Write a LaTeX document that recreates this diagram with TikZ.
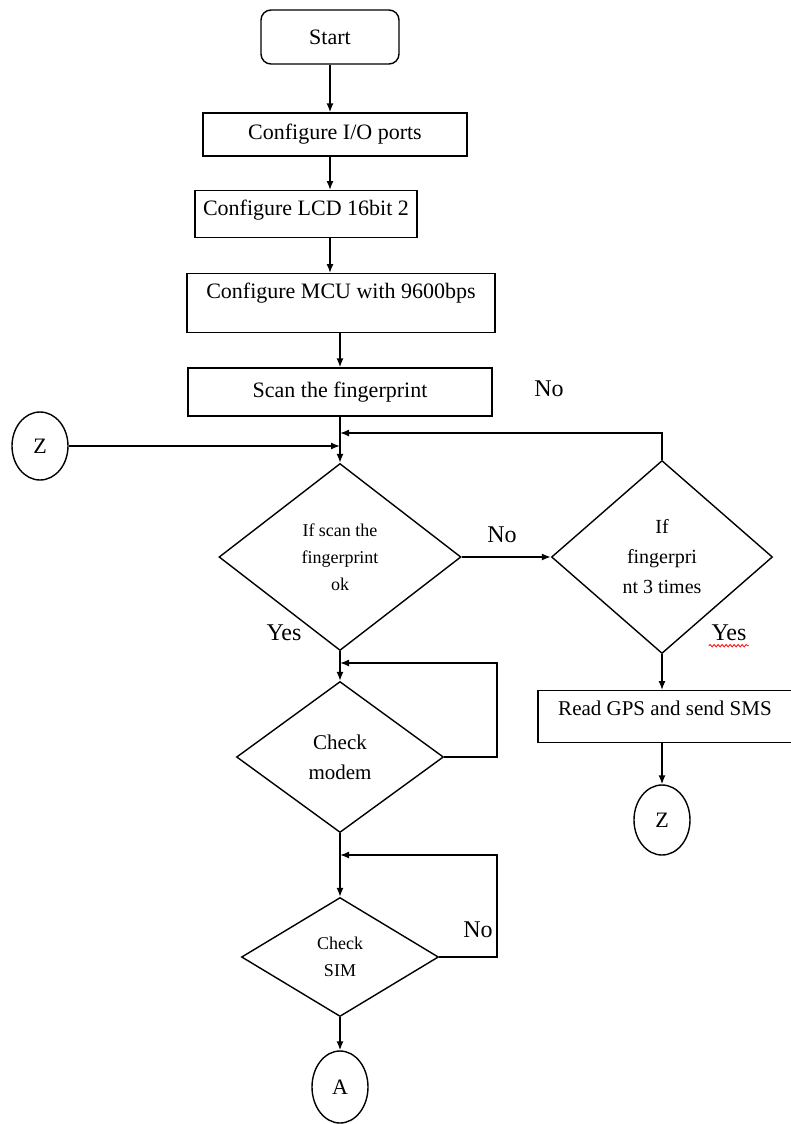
\documentclass[tikz,border=0pt]{standalone}
\usepackage{fontspec}
\setmainfont{Liberation Serif}
\usetikzlibrary{shapes.geometric,arrows.meta,calc,decorations.pathmorphing}
\begin{document}
\begin{tikzpicture}[x=1pt,y=-1pt,
  line width=1.4pt,
  arr/.style={-{Latex[length=9pt,width=7pt]}},
  procbox/.style={draw, rectangle, inner sep=0pt, font=\fontsize{22}{26}\selectfont},
  termbox/.style={draw, rectangle, rounded corners=10pt, inner sep=0pt, font=\fontsize{22}{26}\selectfont},
  decbox/.style={draw, diamond, inner sep=0pt, align=center},
  conn/.style={draw, ellipse, inner sep=0pt, minimum width=56pt, font=\fontsize{22}{26}\selectfont},
  lbl/.style={font=\fontsize{24}{28}\selectfont, inner sep=0pt}
]
\useasboundingbox (0,0) rectangle (790,1124);

\node[termbox, minimum width=138pt, minimum height=54pt] (start) at (330,37) {Start};
\node[procbox, minimum width=264pt, minimum height=43pt] (io) at (335,134.5) {Configure I/O ports};
\node[procbox, inner xsep=8pt, minimum width=222pt, text height=25pt, text depth=22pt, anchor=north] (lcd) at (306,190) {Configure LCD 16bit 2};
\node[procbox, minimum width=308pt, text height=25pt, text depth=34pt, anchor=north] (mcu) at (341,273) {Configure MCU with 9600bps};
\node[procbox, minimum width=304pt, minimum height=48pt] (scan) at (340,392) {Scan the fingerprint};

\node[conn, minimum height=68pt] (zl) at (40,446) {Z};
\coordinate (j1) at (340,433);
\node[decbox, minimum width=242pt, minimum height=187pt, font=\fontsize{18}{27}\selectfont] (d1) at (340,557) {If scan the\\fingerprint\\ok};
\node[decbox, minimum width=221pt, minimum height=193pt, font=\fontsize{20}{30}\selectfont] (d2) at (662,557) {If\\fingerpri\\nt 3 times};
\node[procbox, minimum width=254pt, text height=25pt, text depth=27pt, anchor=north, font=\fontsize{21}{25}\selectfont] (gps) at (665,690) {Read GPS and send SMS};
\node[conn, minimum height=70pt] (zr) at (662,820) {Z};

\node[decbox, minimum width=207pt, minimum height=151pt, font=\fontsize{21}{30}\selectfont] (modem) at (340,757) {Check\\modem};
\coordinate (j2) at (340,663);
\coordinate (r2) at (497,663);
\node[decbox, minimum width=197pt, minimum height=119pt, font=\fontsize{18}{27}\selectfont] (sim) at (340,957) {Check\\SIM};
\coordinate (j3) at (340,855);
\coordinate (r3) at (497,855);
\node[conn, minimum height=72pt] (a) at (340,1087) {A};

\draw[arr] (start.south) -- (start.south |- io.north);
\draw[arr] (start.south |- io.south) -- (start.south |- lcd.north);
\draw[arr] (start.south |- lcd.south) -- (start.south |- mcu.north);
\draw[arr] (scan.north |- mcu.south) -- (scan.north);
\draw[arr] (scan.south) -- (d1.north);
\draw[arr] (zl.east) -- (zl.east -| d1.north);
\draw[arr] (d2.north) |- (j1);
\draw[arr] (d1.east) -- (d2.west);
\draw[arr] (d1.south) -- (modem.north);
\draw[arr] (modem.east) -| (r2) -- (j2);
\draw[arr] (modem.south) -- (sim.north);
\draw[arr] (sim.east) -| (r3) -- (j3);
\draw[arr] (sim.south) -- (a.north);
\draw[arr] (d2.south) -- (d2.south |- gps.north);
\draw[arr] (d2.south |- gps.south) -- (zr.north);

\node[lbl] (no1) at (549,389) {No};
\node[lbl] (no2) at (502,535) {No};
\node[lbl] (yes1) at (284,633) {Yes};
\node[lbl] (yes2) at (729,633) {Yes};
\node[lbl] (no3) at (478,930) {No};
\draw[red, line width=0.8pt, decorate, decoration={snake, amplitude=1.2pt, segment length=4pt}]
  ($(yes2.south west)+(-2,4)$) -- ($(yes2.south east)+(2,4)$);
\end{tikzpicture}
\end{document}
